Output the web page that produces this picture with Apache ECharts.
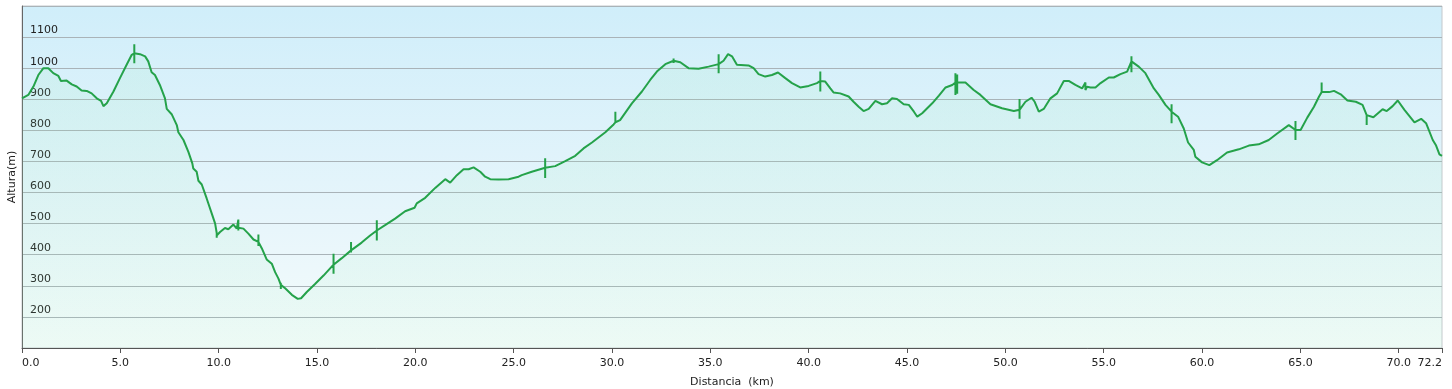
<!DOCTYPE html>
<html>
<head>
<meta charset="utf-8">
<script src="https://cdn.jsdelivr.net/npm/echarts@6/dist/echarts.min.js"></script>
<style>
html,body{margin:0;padding:0;background:#fff;}
#chart{width:1452px;height:389px;}
</style>
</head>
<body>
<div id="chart"></div>
<script>
// Repeated distances reproduce the vertical spikes of the original track.
const distKm = [
  0.00,0.32,0.58,0.83,1.09,1.34,1.59,1.85,1.98,2.27,2.53,2.78,3.03,3.29,3.54,3.80,4.02,4.14,4.31,4.65,4.98,5.32,5.58,
  5.71,5.71,5.71,5.71,
  6.00,6.26,6.42,6.59,6.76,7.01,7.27,7.36,7.61,7.87,7.95,8.21,8.46,8.66,8.71,8.88,8.97,9.14,9.39,9.65,9.82,
  9.90,9.90,9.90,
  10.07,10.32,10.49,10.75,10.92,
  11.00,11.00,11.00,11.00,
  11.26,11.51,11.77,
  12.02,12.02,12.02,12.02,
  12.19,12.44,12.70,12.87,13.04,
  13.16,13.16,13.16,13.16,
  13.38,13.72,14.02,14.19,14.48,14.90,15.33,
  15.84,15.84,15.84,15.84,
  16.26,
  16.73,16.73,16.73,16.73,
  17.27,17.70,
  18.04,18.04,18.04,18.04,
  18.46,18.97,19.48,19.96,20.07,20.50,21.01,21.52,21.77,22.11,22.45,22.71,22.96,23.30,23.55,23.81,24.23,24.74,25.25,25.41,25.92,
  26.60,26.60,26.60,26.60,
  27.11,27.62,28.13,28.55,28.98,29.66,30.08,
  30.17,30.17,30.17,
  30.41,31.01,31.52,31.94,32.28,32.71,
  33.13,33.13,33.13,33.13,
  33.47,33.89,34.40,34.91,
  35.42,35.42,35.42,35.42,
  35.67,35.90,36.10,36.35,36.94,37.20,37.45,37.79,38.13,38.44,38.81,39.15,39.57,40.00,40.42,
  40.59,40.59,40.59,40.59,
  40.84,41.10,41.26,41.60,42.03,42.28,42.54,42.79,43.05,43.39,43.73,43.98,44.24,44.49,44.83,45.09,45.35,45.52,45.77,46.28,46.62,46.96,47.30,
  47.46,47.46,47.46,47.46,
  47.55,47.55,47.55,47.55,
  47.97,48.39,48.73,49.24,49.83,50.43,
  50.72,50.72,50.72,50.72,
  51.02,51.33,51.49,51.70,51.95,52.29,52.63,52.97,53.22,53.56,53.90,
  54.07,54.07,54.15,
  54.33,54.58,54.84,55.26,55.51,55.85,56.19,
  56.41,56.41,56.41,56.41,
  56.78,57.12,57.55,57.80,58.14,
  58.45,58.45,58.45,58.45,
  58.78,59.07,59.29,59.58,59.66,60.00,60.37,60.76,61.27,61.87,62.38,62.88,63.39,63.82,64.41,
  64.75,64.75,64.75,64.75,
  65.01,65.35,65.69,65.95,
  66.08,66.08,66.08,
  66.46,66.71,67.05,67.39,67.82,68.16,
  68.37,68.37,68.37,
  68.71,69.18,69.39,69.69,69.95,70.29,70.80,71.14,71.39,71.73,71.90,72.07,72.20
];
const elevM = [
  903,914,941,978,1000,1000,984,975,959,960,948,941,928,927,919,903,895,878,887,925,968,1011,1043,
  1048,1077,1016,1048,
  1045,1038,1022,987,978,946,903,869,852,817,794,769,731,694,677,667,638,626,581,532,500,
  470,455,462,
  473,486,482,497,484,
  487,513,478,487,
  484,468,449,
  441,465,428,441,
  421,385,371,344,323,
  303,310,290,303,
  292,271,258,260,280,306,333,
  368,403,339,368,
  389,
  414,441,407,414,
  439,462,
  478,511,446,478,
  495,516,540,551,565,583,615,643,632,656,675,675,681,667,651,643,642,643,651,656,667,
  680,710,647,680,
  685,701,718,742,761,794,819,
  826,860,826,
  833,887,925,962,989,1013,
  1024,1031,1017,1024,
  1019,1000,998,1005,
  1013,1045,984,1013,
  1024,1045,1038,1011,1009,1000,981,973,978,986,968,952,938,943,952,
  959,989,925,959,
  957,935,922,919,909,892,876,862,869,895,884,887,903,901,884,882,860,844,855,887,912,938,946,
  954,984,914,954,
  954,980,918,954,
  954,930,914,884,871,862,
  866,901,837,866,
  892,905,892,860,869,903,919,959,959,946,935,
  954,930,940,
  938,938,952,970,970,981,989,
  1022,1038,987,1022,
  1005,984,935,914,882,
  860,884,823,860,
  844,806,761,737,715,697,688,704,729,739,751,755,769,790,817,
  801,830,769,801,
  801,841,876,909,
  923,954,923,
  923,927,916,896,892,882,
  849,817,849,
  842,868,862,878,896,866,826,837,823,769,751,723,718
];
const yTicks = [200,300,400,500,600,700,800,900,1000,1100];
const xTickStep = 5;

const data = distKm.map((d, i) => [d, elevM[i]]);
const font = 'DejaVu Sans, Verdana, sans-serif';

const chart = echarts.init(document.getElementById('chart'), null, {renderer: 'canvas'});
chart.setOption({
  animation: false,
  backgroundColor: '#ffffff',
  grid: {
    left: 22, right: 10, top: 6, bottom: 41,
    outerBoundsMode: 'none',
    containLabel: false,
    show: true,
    borderColor: '#c4c8cc',
    borderWidth: 1,
    backgroundColor: new echarts.graphic.LinearGradient(0, 0, 0, 1, [
      {offset: 0, color: '#d0eefa'},
      {offset: 0.6, color: '#e6f5fb'},
      {offset: 1, color: '#f5fcfb'}
    ])
  },
  xAxis: {
    type: 'value',
    min: 0, max: 72.2, interval: xTickStep,
    name: 'Distancia  (km)',
    nameLocation: 'middle',
    nameGap: 29,
    nameTextStyle: {fontFamily: font, fontSize: 11, color: '#222'},
    axisLine: {show: true, onZero: false, lineStyle: {color: '#555', width: 1}},
    axisTick: {show: true, length: 5, lineStyle: {color: '#555'}},
    axisLabel: {
      fontFamily: font, fontSize: 11, color: '#222', margin: 10,
      alignMinLabel: 'left', alignMaxLabel: 'right',
      formatter: v => v.toFixed(1)
    },
    splitLine: {show: false}
  },
  yAxis: {
    type: 'value',
    min: 100, max: 1200, interval: 100,
    name: 'Altura(m)',
    nameLocation: 'middle',
    nameGap: 4,
    nameMoveOverlap: false,
    nameTextStyle: {fontFamily: font, fontSize: 11, color: '#222'},
    axisLine: {show: true, onZero: false, lineStyle: {color: '#666', width: 1}},
    axisTick: {show: false},
    axisLabel: {
      inside: true, margin: 8,
      fontFamily: font, fontSize: 11, color: '#222',
      verticalAlign: 'bottom',
      padding: [0, 0, 1, 0],
      formatter: v => (yTicks.indexOf(v) >= 0 ? String(v) : '')
    },
    splitLine: {show: true, lineStyle: {color: '#a9b3b8', width: 1}}
  },
  series: [{
    type: 'line',
    data: data,
    showSymbol: false,
    symbol: 'none',
    smooth: false,
    lineStyle: {color: '#25a24a', width: 2},
    areaStyle: {
      color: new echarts.graphic.LinearGradient(0, 0, 0, 1, [
        {offset: 0, color: 'rgba(150,235,180,0.18)'},
        {offset: 1, color: 'rgba(150,235,180,0.12)'}
      ]),
      origin: 'start'
    },
    z: 3
  }]
});
</script>
</body>
</html>
